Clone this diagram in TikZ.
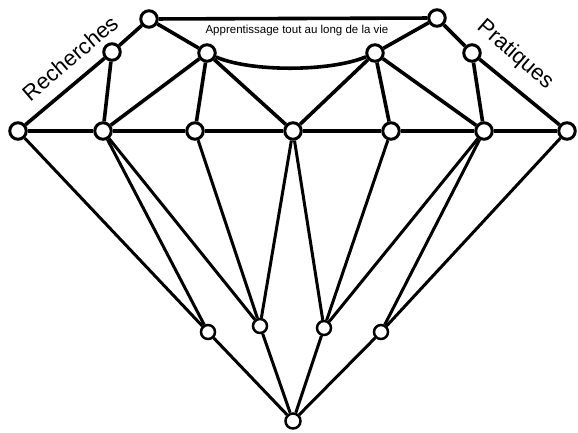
\documentclass[tikz,border=0pt]{standalone}
\usepackage{fontspec}
\setmainfont{Liberation Sans}
\begin{document}
\begin{tikzpicture}[x=1pt,y=-1pt,
  dot/.style={circle,draw=black,fill=white,line width=3pt,minimum size=16.5pt,inner sep=0pt},
  sdot/.style={dot,minimum size=14pt,line width=2.5pt},
  edge/.style={line width=3.6pt,black},
  ledge/.style={line width=3pt,black}]
\useasboundingbox (0,0) rectangle (578,433);
% nodes
\node[dot] (T1) at (149,19) {};
\node[dot] (T2) at (437,18) {};
\node[dot] (S1) at (112,52) {};
\node[dot] (S2) at (207,53) {};
\node[dot] (S3) at (375,53) {};
\node[dot] (S4) at (472,53) {};
\node[dot] (M1) at (18,131) {};
\node[dot] (M2) at (103,131) {};
\node[dot] (M3) at (195,131) {};
\node[dot] (M4) at (293,131) {};
\node[dot] (M5) at (391,131) {};
\node[dot] (M6) at (484,131) {};
\node[dot] (M7) at (567,131) {};
\node[sdot] (L1) at (208,332) {};
\node[sdot] (L2) at (260,326) {};
\node[sdot] (L3) at (324,328) {};
\node[sdot] (L4) at (381,332) {};
\node[sdot,minimum size=15pt] (B) at (293,421) {};
% top edges
\draw[edge] (T1) -- (T2);
\draw[edge] (T1) -- (S1);
\draw[edge] (S1) -- (M1);
\draw[edge] (T1) -- (S2);
\draw[edge] (S2) .. controls (250,72) and (330,72) .. (S3);
\draw[edge] (S3) -- (T2);
\draw[edge] (T2) -- (S4);
\draw[edge] (S4) -- (M7);
\draw[edge] (S1) -- (M2);
\draw[edge] (S2) -- (M2);
\draw[edge] (S2) -- (M3);
\draw[edge] (S2) -- (M4);
\draw[edge] (S3) -- (M4);
\draw[edge] (S3) -- (M5);
\draw[edge] (S3) -- (M6);
\draw[edge] (S4) -- (M6);
% middle row
\draw[edge] (M1) -- (M2);
\draw[edge] (M2) -- (M3);
\draw[edge] (M3) -- (M4);
\draw[edge] (M4) -- (M5);
\draw[edge] (M5) -- (M6);
\draw[edge] (M6) -- (M7);
% lower edges
\draw[ledge] (M1) -- (L1);
\draw[ledge] (M2) -- (L1);
\draw[ledge] (M2) -- (L2);
\draw[ledge] (M3) -- (L2);
\draw[ledge] (M4) -- (L2);
\draw[ledge] (M4) -- (L3);
\draw[ledge] (M5) -- (L3);
\draw[ledge] (M6) -- (L3);
\draw[ledge] (M6) -- (L4);
\draw[ledge] (M7) -- (L4);
\draw[ledge] (L1) -- (B);
\draw[ledge] (L2) -- (B);
\draw[ledge] (L3) -- (B);
\draw[ledge] (L4) -- (B);
% labels
\node[font=\fontsize{11.5}{13}\selectfont] (title) at (297,31) {Apprentissage tout au long de la vie};
\node[font=\fontsize{22}{24}\selectfont,rotate=40.5] (rech) at (70,58) {Recherches};
\node[font=\fontsize{22}{24}\selectfont,rotate=-41] (prat) at (515,55) {Pratiques};
\end{tikzpicture}
\end{document}
